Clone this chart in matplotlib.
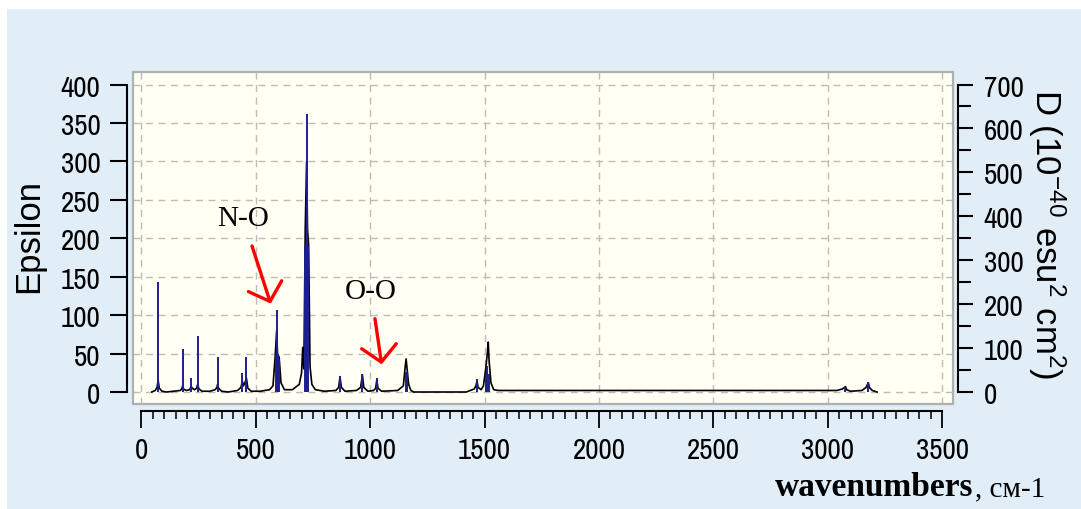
import matplotlib
matplotlib.use('Agg')
import matplotlib.pyplot as plt
from matplotlib.patches import Rectangle
from matplotlib.ticker import MultipleLocator

# ---- data ----
# broadened spectrum (black line), left axis: Epsilon
curve_wn = [45, 60, 68, 73, 78, 90, 110, 170, 176, 180, 184, 195, 210, 214, 217, 221,
            232, 241, 246, 251, 265, 300, 322, 330, 333, 337, 350, 380, 420, 435, 441,
            446, 452, 459, 465, 480, 520, 560, 575, 585, 591, 595, 602, 610, 625, 660,
            690, 700, 705, 710, 716, 722, 726, 731, 737, 745, 760, 800, 850, 862, 868,
            874, 890, 940, 958, 966, 972, 990, 1015, 1024, 1029, 1034, 1050, 1120, 1145,
            1152, 1157, 1162, 1168, 1178, 1190, 1420, 1455, 1462, 1467, 1472, 1485, 1495,
            1505, 1512, 1516, 1520, 1528, 1540, 1560, 3040, 3065, 3073, 3078, 3083, 3100,
            3150, 3168, 3174, 3178, 3182, 3195, 3216]
curve_eps = [0, 2, 6, 15, 5, 1, 0, 2, 4, 8, 4, 2, 3, 5, 8, 5,
             3, 5, 10, 4, 1, 1, 3, 6, 10, 5, 1, 0, 2, 6, 14,
             8, 12, 18, 5, 1, 1, 3, 8, 48, 80, 50, 45, 12, 3, 3,
             10, 25, 58, 30, 212, 300, 212, 190, 33, 10, 3, 1, 2, 6, 20,
             6, 1, 2, 6, 22, 6, 1, 2, 5, 16, 5, 1, 2, 8,
             30, 43, 28, 10, 2, 0, 0, 4, 8, 14, 6, 3, 8,
             30, 50, 65, 40, 12, 3, 2, 2, 4, 6, 7, 3, 1,
             2, 6, 10, 12, 6, 2, 0]

# stick spectrum (blue), right axis: D (10^-40 esu^2 cm^2)
stick_wn = [73, 180, 216, 246, 333, 441, 459, 588, 591, 597, 602, 717, 721, 725, 729,
            868, 966, 1029, 1155, 1163, 1467, 1505, 1512, 1520, 3078, 3178]
stick_d = [250, 98, 33, 128, 80, 44, 80, 86, 187, 86, 75, 333, 333, 633, 333,
           37, 40, 32, 45, 45, 30, 42, 60, 42, 12, 22]

x_ticks = list(range(0, 3501, 500))
eps_ticks = list(range(0, 401, 50))
d_ticks = list(range(0, 701, 100))

W, H = 1081, 510
BG = '#e1eef8'
PANEL = '#fffff3'
SANS_N = ['Archivo Narrow', 'PT Sans Narrow', 'Liberation Sans', 'DejaVu Sans']
SANS = ['Liberation Sans', 'DejaVu Sans']
SERIF = ['Liberation Serif', 'DejaVu Serif']

plt.rcParams['font.family'] = SANS_N
plt.rcParams['mathtext.fontset'] = 'custom'
plt.rcParams['mathtext.rm'] = 'Liberation Sans'
plt.rcParams['mathtext.default'] = 'rm'


def fx(px):
    return px / W


def fy(py):
    return 1 - py / H


fig = plt.figure(figsize=(W / 100, H / 100), dpi=100, facecolor='white')
fig.patches.append(Rectangle((fx(7), 0), 1, fy(10), transform=fig.transFigure,
                             facecolor=BG, edgecolor='none', zorder=-10))

# panel = axes area; the data range 0..3500 / 0..400 sits inside it
ax = fig.add_axes([fx(133), fy(405), (953 - 133) / W, (405 - 73) / H])
ax.set_facecolor(PANEL)
ax.set_xlim(-37, 3548)
ax.set_ylim(-15.6, 416.3)

ax2 = ax.twinx()
ax2.set_ylim(-15.6 * 1.75, 416.3 * 1.75)

ax.plot(curve_wn, curve_eps, color='black', lw=1.2, zorder=3)
ax2.vlines(stick_wn, 0, stick_d, color='#1e1e90', lw=1.4, zorder=4)

# grid
ax.set_xticks(x_ticks)
ax.set_yticks(eps_ticks)
ax.grid(True, color='#bcbcbc', linestyle=(0, (5, 4)), lw=1.0, zorder=0)
ax.set_axisbelow(True)

# panel border
ax.add_patch(Rectangle((0, 0), 1, 1, transform=ax.transAxes, fill=False,
                       edgecolor='#b0b0b0', lw=1.6, clip_on=False, zorder=5))

# spines
for s in ['top', 'right']:
    ax.spines[s].set_visible(False)
for s in ['top', 'left', 'bottom']:
    ax2.spines[s].set_visible(False)
ax.spines['left'].set_position(('outward', 4.3))
ax.spines['left'].set_bounds(0, 400)
ax.spines['bottom'].set_position(('outward', 4.8))
ax.spines['bottom'].set_bounds(0, 3500)
ax2.spines['right'].set_position(('outward', 3.6))
ax2.spines['right'].set_bounds(0, 700)
for sp in [ax.spines['left'], ax.spines['bottom'], ax2.spines['right']]:
    sp.set_linewidth(1.5)
    sp.set_color('black')

ax.xaxis.set_minor_locator(MultipleLocator(50))
ax.tick_params(axis='x', which='major', direction='out', length=12, width=1.3,
               pad=6, labelsize=21)
ax.tick_params(axis='x', which='minor', direction='out', length=6, width=1.1)
ax.tick_params(axis='y', which='major', direction='out', length=12.2, width=1.5,
               pad=7, labelsize=21)
ax2.set_yticks(d_ticks)
ax2.yaxis.set_minor_locator(MultipleLocator(50))
ax2.tick_params(axis='y', which='major', direction='out', length=10.5, width=1.5,
                pad=8, labelsize=21)
ax2.tick_params(axis='y', which='minor', direction='out', length=9.5, width=1.5)

# axis titles
fig.text(fx(29), fy(236), 'Epsilon', rotation=90, ha='center', va='center',
         fontsize=25, family=SANS)
fig.text(fx(1047), fy(234), r'D (10$^{-40}$ esu$^{2}$ cm$^{2}$)', rotation=270,
         ha='center', va='center', fontsize=25, family=SANS)
fig.text(fx(973), fy(496), 'wavenumbers', ha='right', va='baseline',
         fontsize=24, fontweight='bold', family=SERIF)
fig.text(fx(975), fy(496), ', см-1', ha='left', va='baseline',
         fontsize=21, family=SERIF)

# bond annotations
arrow = dict(arrowstyle='->,head_length=0.55,head_width=0.6', color='red',
             lw=2.4, shrinkA=9, shrinkB=0)
ax.annotate('N-O', xy=(565, 115), xytext=(444, 226), ha='center', va='center',
            fontsize=21, family=SERIF, arrowprops=arrow, zorder=6)
ax.annotate('O-O', xy=(1050, 36), xytext=(1003, 132), ha='center', va='center',
            fontsize=21, family=SERIF, arrowprops=arrow, zorder=6)

fig.savefig('out.png', dpi=100, facecolor=fig.get_facecolor())
